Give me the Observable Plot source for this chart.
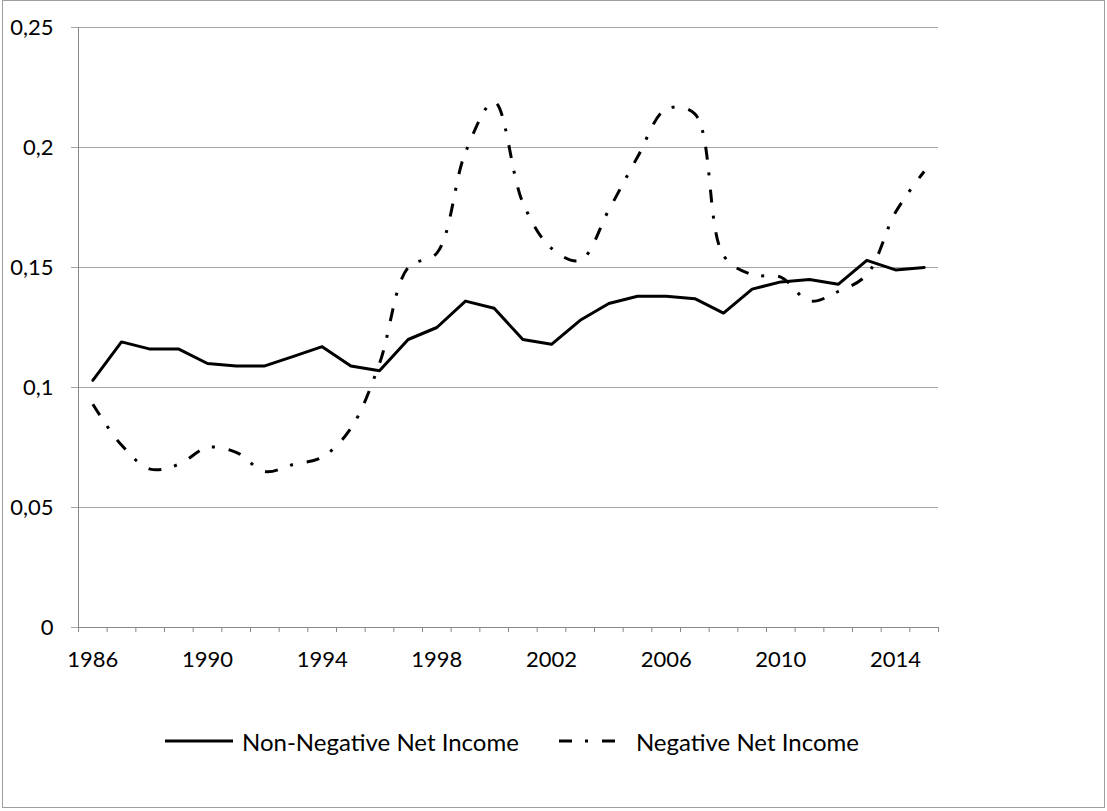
<!DOCTYPE html>
<html>
<head>
<meta charset="utf-8">
<script src="https://cdn.jsdelivr.net/npm/d3@7"></script>
<script src="https://cdn.jsdelivr.net/npm/@observablehq/plot@0.6"></script>
<style>
  html, body { margin: 0; padding: 0; background: #fff; }
  #frame { position: absolute; left: 2px; top: 0; width: 1103px; height: 808px; box-sizing: border-box; border: 1px solid #9e9e9e; }
  #chart { position: absolute; left: 0; top: 0; }
  #legend { position: absolute; left: 165px; top: 725px; height: 32px; display: flex; align-items: center;
            font-family: Lato, "Open Sans", sans-serif; font-size: 24px; color: #000; }
  #legend span { white-space: nowrap; }
</style>
</head>
<body>
<div id="frame"></div>
<div id="chart"></div>
<div id="legend"></div>
<script>
const years = [1986, 1987, 1988, 1989, 1990, 1991, 1992, 1993, 1994, 1995,
               1996, 1997, 1998, 1999, 2000, 2001, 2002, 2003, 2004, 2005,
               2006, 2007, 2008, 2009, 2010, 2011, 2012, 2013, 2014, 2015];
const nonNegative = [0.103, 0.119, 0.116, 0.116, 0.110, 0.109, 0.109, 0.113, 0.117, 0.109,
                     0.107, 0.120, 0.125, 0.136, 0.133, 0.120, 0.118, 0.128, 0.135, 0.138,
                     0.138, 0.137, 0.131, 0.141, 0.144, 0.145, 0.143, 0.153, 0.149, 0.150];
const negative = [0.093, 0.076, 0.066, 0.068, 0.075, 0.073, 0.065, 0.068, 0.071, 0.083,
                  0.110, 0.150, 0.156, 0.198, 0.219, 0.177, 0.158, 0.153, 0.174, 0.196,
                  0.216, 0.214, 0.155, 0.147, 0.146, 0.136, 0.140, 0.147, 0.173, 0.190];
const yTicks = [0, 0.05, 0.1, 0.15, 0.2, 0.25];
const xLabelYears = [1986, 1990, 1994, 1998, 2002, 2006, 2010, 2014];
const seriesNames = ["Non-Negative Net Income", "Negative Net Income"];

const rows = years.map((yr, i) => ({year: yr, nonNeg: nonNegative[i], neg: negative[i]}));
const boundaries = years.map(y => y - 0.5).concat([years[years.length - 1] + 0.5]);
const dash = "13 13 3 14";
const font = 'Lato, "Open Sans", sans-serif';

const chart = Plot.plot({
  width: 1107,
  height: 680,
  marginLeft: 78,
  marginRight: 169,
  marginTop: 27,
  marginBottom: 53,
  x: {domain: [boundaries[0], boundaries[boundaries.length - 1]]},
  y: {domain: [0, 0.25]},
  style: {fontFamily: font, fontSize: "22px", color: "#000", background: "transparent", overflow: "visible"},
  marks: [
    Plot.gridY(yTicks.filter(d => d > 0), {stroke: "#a6a6a6", strokeOpacity: 1, strokeWidth: 1}),
    Plot.axisY(yTicks, {tickSize: 7, tickPadding: 18, stroke: "#a6a6a6", strokeOpacity: 1,
      tickFormat: d => String(d).replace(".", ","), label: null, fontSize: 22}),
    Plot.axisX(boundaries, {tickSize: 5, tickFormat: () => "", stroke: "#888", strokeOpacity: 1, label: null}),
    Plot.axisX(xLabelYears, {tickSize: 0, tickPadding: 24, tickFormat: d => String(d), label: null, fontSize: 22}),
    Plot.ruleX([boundaries[0]], {stroke: "#888"}),
    Plot.ruleY([0], {stroke: "#888"}),
    Plot.line(rows, {x: "year", y: "nonNeg", stroke: "#000", strokeWidth: 3, strokeLinejoin: "round"}),
    Plot.line(rows, {x: "year", y: "neg", stroke: "#000", strokeWidth: 3, curve: "catmull-rom",
      strokeDasharray: dash, strokeLinecap: "butt"})
  ]
});
document.getElementById("chart").appendChild(chart);

const legend = document.getElementById("legend");
legend.innerHTML =
  `<svg width="68" height="32"><line x1="0" x2="68" y1="16" y2="16" stroke="#000" stroke-width="3"/></svg>` +
  `<span style="margin-left:9px">${seriesNames[0]}</span>` +
  `<svg width="60" height="32" style="margin-left:40px"><line x1="0" x2="60" y1="16" y2="16" stroke="#000" stroke-width="3" stroke-dasharray="${dash}"/></svg>` +
  `<span style="margin-left:17px">${seriesNames[1]}</span>`;
</script>
</body>
</html>
